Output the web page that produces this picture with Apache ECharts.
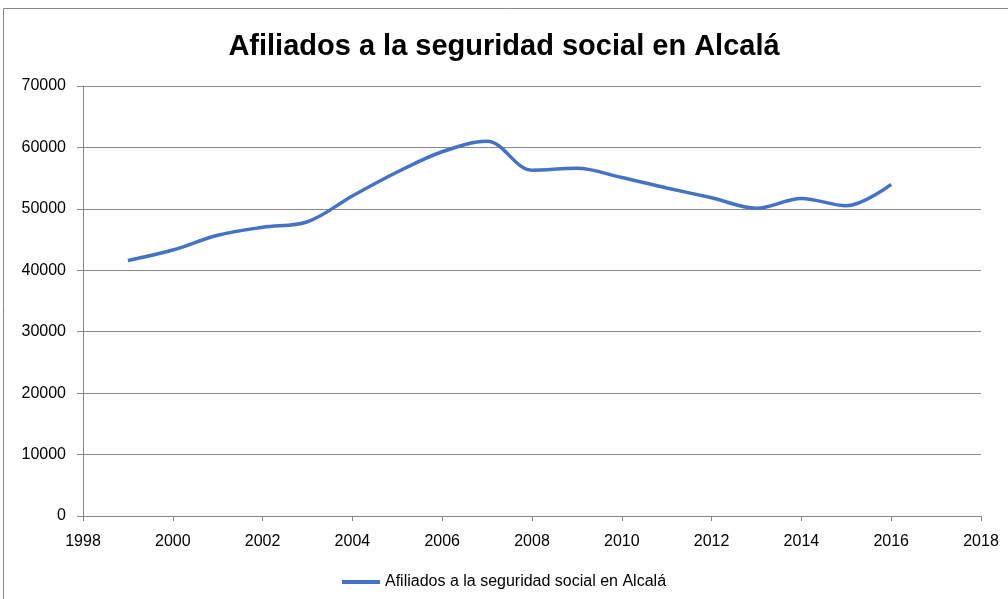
<!DOCTYPE html>
<html><head><meta charset="utf-8">
<script src="https://cdn.jsdelivr.net/npm/echarts@6/dist/echarts.min.js"></script>
<style>html,body{margin:0;padding:0;background:#fff}#c{width:1008px;height:599px}</style>
</head><body><div id="c"></div>
<script>
const title = 'Afiliados a la seguridad social en Alcalá';
const seriesName = 'Afiliados a la seguridad social en Alcalá';
const years = [1999,2000,2001,2002,2003,2004,2005,2006,2007,2008,2009,2010,2011,2012,2013,2014,2015,2016];
const values = [41600,43300,45700,47000,47900,52100,56000,59300,61000,56300,56600,55100,53400,51800,50100,51700,50500,54000];
const font = "'Liberation Sans',Arial,sans-serif";
const chart = echarts.init(document.getElementById('c'), null, {renderer:'canvas'});
chart.setOption({
  animation:false,
  backgroundColor:'#fff',
  graphic:[{type:'rect',shape:{x:3.5,y:8.5,width:1100,height:700},style:{fill:'none',stroke:'#888',lineWidth:1}}],
  title:{text:title,left:'center',top:27,textStyle:{fontFamily:font,fontSize:29,fontWeight:'bold',color:'#000'}},
  legend:{bottom:4,left:'center',itemWidth:38,itemHeight:4,itemGap:10,icon:'rect',textStyle:{fontFamily:font,fontSize:16,color:'#000'},data:[seriesName]},
  grid:{left:83,right:27,top:86,bottom:83,containLabel:false},
  xAxis:{type:'value',min:1998,max:2018,interval:2,
    axisLine:{show:true,lineStyle:{color:'#888'}},axisTick:{show:true,length:5,lineStyle:{color:'#888'}},
    splitLine:{show:false},
    axisLabel:{fontFamily:font,fontSize:16,color:'#000',margin:18,formatter:v=>String(v)}},
  yAxis:{type:'value',min:0,max:70000,interval:10000,
    axisLine:{show:true,lineStyle:{color:'#888'}},axisTick:{show:true,length:6,lineStyle:{color:'#888'}},
    splitLine:{show:true,lineStyle:{color:'#888'}},
    axisLabel:{fontFamily:font,fontSize:16,color:'#000',margin:17,formatter:v=>String(v)}},
  series:[{name:seriesName,type:'line',smooth:0.35,showSymbol:false,
    data:years.map((y,i)=>[y,values[i]]),
    lineStyle:{color:'#4472C4',width:3.5},itemStyle:{color:'#4472C4'}}]
});
</script></body></html>
